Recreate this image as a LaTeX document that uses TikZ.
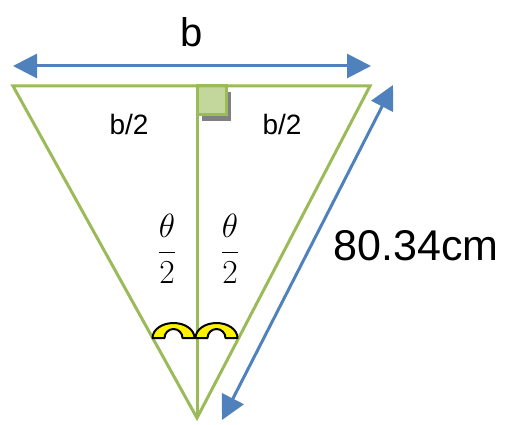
\documentclass[tikz,border=0pt]{standalone}
\usepackage{fontspec}
\setmainfont{Liberation Sans}
\usetikzlibrary{arrows.meta,calc}
\definecolor{tgreen}{HTML}{9BBB59}
\definecolor{tlgreen}{HTML}{C3D69B}
\definecolor{tblue}{HTML}{4F81BD}
\begin{document}
\begin{tikzpicture}[x=1pt,y=-1pt,
  side/.style={draw=tgreen,line width=3pt,line join=miter},
  dim/.style={draw=tblue,line width=3pt,{Triangle[length=24pt,width=24pt]}-{Triangle[length=24pt,width=24pt]}},
  anglemark/.style={fill=yellow,draw=black,line width=2pt,line join=round},
  lbl/.style={inner sep=0pt},
  frac/.style={inner sep=0pt,font=\fontsize{24.88}{30}\selectfont}]
\useasboundingbox (0,0) rectangle (514,425);
\coordinate (A) at (13,86);
\coordinate (B) at (370,86);
\coordinate (C) at (197,418);
\coordinate (M) at (197,86);
\coordinate (L1) at (13,66);
\coordinate (L2) at (371,66);
\coordinate (R1) at (222,420);
\coordinate (R2) at (393,85);
% right-angle marker
\fill[gray] (202,92) rectangle (231,121);
\draw[fill=tlgreen,draw=tgreen,line width=3pt] (197,86) rectangle (226,115);
% triangle
\draw[side] (A) -- (B) -- (C) -- cycle;
\draw[side] (M) -- (C);
% angle marks
\coordinate (E1) at (173.5,338);
\coordinate (E2) at (216.5,338);
\draw[anglemark] ($(E1)+(-21,0)$) arc[start angle=180,end angle=360,x radius=21,y radius=15]
  -- ++(-12,0) arc[start angle=0,end angle=-180,x radius=9,y radius=9] -- cycle;
\draw[anglemark] ($(E2)+(-21,0)$) arc[start angle=180,end angle=360,x radius=21,y radius=15]
  -- ++(-12,0) arc[start angle=0,end angle=-180,x radius=9,y radius=9] -- cycle;
% dimension arrows
\draw[dim] (L1) -- (L2);
\draw[dim] (R1) -- (R2);
% labels
\node[lbl,font=\fontsize{40}{46}\selectfont] (tb) at (192,32) {b};
\node[lbl,font=\fontsize{28}{32}\selectfont] (tb1) at (129,124) {b/2};
\node[lbl,font=\fontsize{28}{32}\selectfont] (tb2) at (282,124) {b/2};
\node[frac] (th1) at (167,249) {\scalebox{1.35}{$\displaystyle\frac{\theta}{2}$}};
\node[frac] (th2) at (230,249) {\scalebox{1.35}{$\displaystyle\frac{\theta}{2}$}};
\node[lbl,font=\fontsize{43}{48}\selectfont] (len) at (416,246) {80.34cm};
\end{tikzpicture}
\end{document}
